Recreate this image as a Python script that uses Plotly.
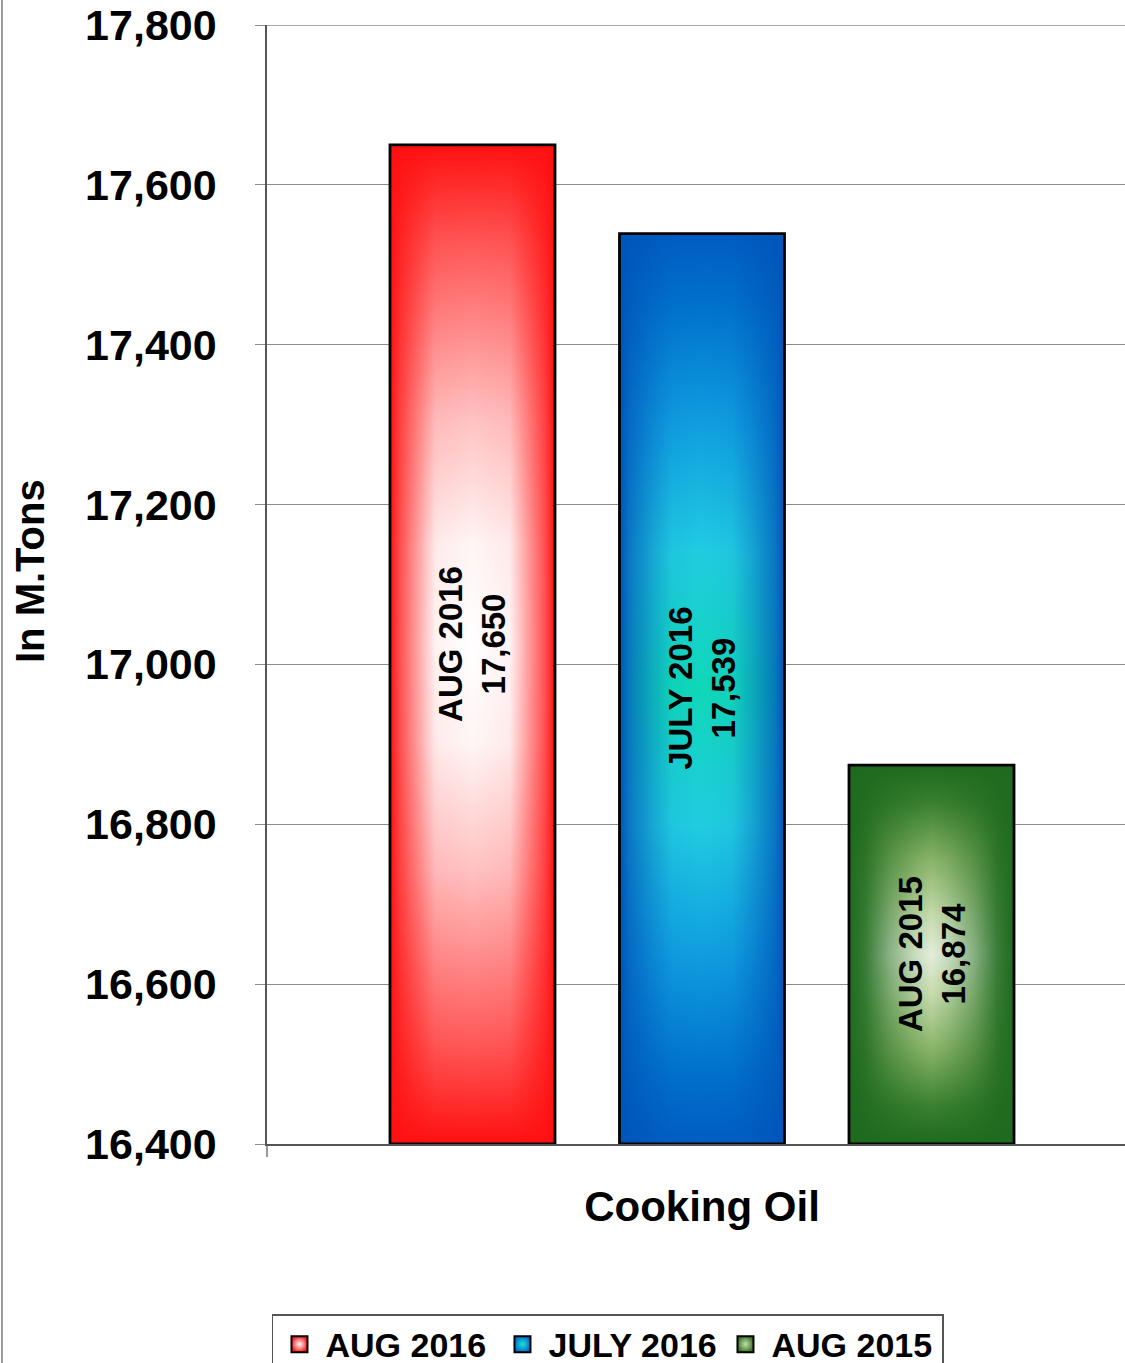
import plotly.graph_objects as go

# ---- data ----
category = "Cooking Oil"
series = ["AUG 2016", "JULY 2016", "AUG 2015"]
values = [17650, 17539, 16874]
y_min, y_max, y_step = 16400, 17800, 200
y_title = "In M.Tons"

# ---- styles ----
def mirror(stops):
    """stops given from edge (0) to centre (0.5); mirrored to the other edge."""
    out = list(stops)
    for p, c in reversed(stops[:-1]):
        out.append([1 - p, c])
    return out

# vertical (bottom -> top) base gradients
vert_scales = [
    mirror([[0, "#ff1010"], [0.1, "#ff5858"], [0.275, "#ffc2c2"], [0.4, "#fff5f5"], [0.5, "#ffffff"]]),
    mirror([[0, "#005cc2"], [0.075, "#0070cc"], [0.215, "#10a0e0"], [0.35, "#20cce0"], [0.5, "#10d8b8"]]),
    mirror([[0, "#1e6a1e"], [0.1, "#3a8030"], [0.25, "#8ab468"], [0.4, "#c8dcb0"], [0.5, "#e4eedc"]]),
]
# horizontal (left -> right) edge shading overlays: edge colour with fading opacity
horiz_edge = ["255,16,16", "0,84,184", "30,106,30"]
horiz_alpha = [
    [[0, 1], [0.06, 0.73], [0.185, 0.33], [0.275, 0.05], [0.5, 0]],
    [[0, 1], [0.06, 0.7], [0.2, 0.32], [0.32, 0.05], [0.5, 0]],
    [[0, 1], [0.1, 0.86], [0.25, 0.45], [0.4, 0.14], [0.5, 0]],
]
legend_cols = [("#ff2020", "#ffffff"), ("#0070d0", "#20e0d0"), ("#3a7a2a", "#c8dcb0")]
bar_w = 0.719
FONT = "Liberation Sans, Arial, sans-serif"

fig = go.Figure()
n = len(series)
for i, (name, v) in enumerate(zip(series, values)):
    c = i - (n - 1) / 2
    x0, x1 = c - bar_w / 2, c + bar_w / 2
    xs = [x0, x0, x1, x1, x0]
    ys = [y_min, v, v, y_min, y_min]
    hscale = mirror([[p, f"rgba({horiz_edge[i]},{a})"] for p, a in horiz_alpha[i]])
    fig.add_trace(go.Scatter(
        x=xs, y=ys, mode="lines", fill="toself",
        fillgradient=dict(type="vertical", colorscale=vert_scales[i]),
        line=dict(width=0), showlegend=False, hoverinfo="skip",
    ))
    fig.add_trace(go.Scatter(
        x=xs, y=ys, mode="lines", fill="toself",
        fillgradient=dict(type="horizontal", colorscale=hscale),
        line=dict(color="black", width=2.8), showlegend=False, hoverinfo="skip",
    ))
    fig.add_annotation(
        x=c, y=(y_min + v) / 2, text=f"{name}<br>{v:,}", textangle=-90,
        showarrow=False, font=dict(family=FONT, size=33, color="black", weight="bold"),
    )

for i, name in enumerate(series):
    col, grad = legend_cols[i]
    fig.add_trace(go.Scatter(
        x=[None], y=[None], mode="markers", name=name,
        marker=dict(symbol="square", size=18, color=col,
                    gradient=dict(type="radial", color=grad),
                    line=dict(color="black", width=2)),
    ))

x_left = -1.8954
x_right = 1.8431

fig.add_annotation(
    xref="paper", yref="paper", x=(30 - 267) / 858, y=(1144 - 571) / 1119,
    text=y_title, textangle=-90, showarrow=False, xanchor="center", yanchor="middle",
    font=dict(family=FONT, size=40, color="black", weight="bold"),
)

fig.update_layout(
    template="none",
    width=1125, height=1363,
    margin=dict(l=267, r=0, t=25, b=219, autoexpand=False),
    paper_bgcolor="white", plot_bgcolor="white",
    showlegend=True,
    legend=dict(orientation="h", x=0.0058, y=-0.152, xanchor="left", yanchor="top",
                bordercolor="#555555", borderwidth=1.5, bgcolor="white",
                entrywidth=166, entrywidthmode="pixels", itemwidth=42,
                font=dict(family=FONT, size=34, color="black", weight="bold")),
    xaxis=dict(range=[x_left, x_right], tickmode="array", tickvals=[0], ticktext=[category],
               ticks="", showgrid=False, zeroline=False, showline=True,
               linecolor="#555555", linewidth=1.5, automargin=False,
               tickfont=dict(family=FONT, size=42, color="black", weight="bold"),
               ticklabelstandoff=25,
               minor=dict(tickmode="array", tickvals=[x_left], ticks="outside",
                          ticklen=11, tickcolor="#999999", tickwidth=1.5, showgrid=False)),
    yaxis=dict(range=[y_min, y_max], tickmode="linear", tick0=y_min, dtick=y_step,
               tickformat=",d", showgrid=True, gridcolor="#8c8c8c", gridwidth=1,
               zeroline=False, showline=True, linecolor="#555555", linewidth=1.5,
               ticks="outside", ticklen=10, tickcolor="#8c8c8c", tickwidth=1,
               ticklabelstandoff=30, automargin=False,
               tickfont=dict(family=FONT, size=43, color="black", weight="bold")),
    shapes=[
        dict(type="line", xref="paper", yref="paper",
             x0=(2 - 267) / 858, x1=(2 - 267) / 858, y0=-0.2, y1=1.03,
             line=dict(color="#999999", width=2)),
        dict(type="line", xref="paper", yref="y", x0=-10 / 858, x1=1, y0=y_max, y1=y_max,
             line=dict(color="#8c8c8c", width=1.5), layer="below"),
    ],
)

fig.write_html("out.html", config={"displayModeBar": False},
               post_script="document.body.style.margin='0px';")
